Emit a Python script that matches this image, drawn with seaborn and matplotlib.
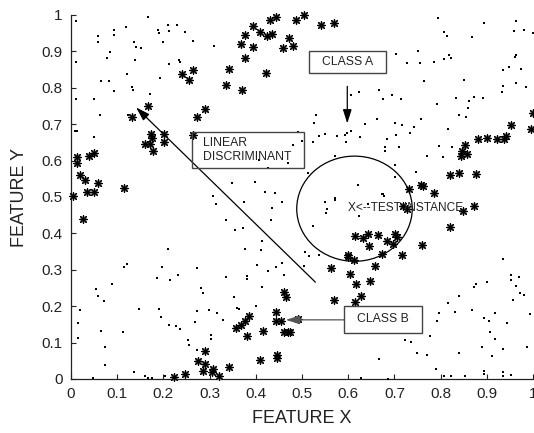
import numpy as np
import pandas as pd
import matplotlib
matplotlib.use("Agg")
import matplotlib.pyplot as plt
import seaborn as sns
from matplotlib.patches import Ellipse, Rectangle

# ---------------- data ----------------
class_a_x = [
    0.011, 0.011, 0.011, 0.009, 0.014, 0.058, 0.059, 0.094, 0.092, 0.118,
    0.084, 0.079, 0.066, 0.082, 0.094, 0.050, 0.063, 0.050, 0.137, 0.141,
    0.152, 0.139, 0.121, 0.131, 0.134, 0.172, 0.123, 0.166, 0.188, 0.190,
    0.209, 0.213, 0.229, 0.247, 0.199, 0.263, 0.310, 0.213, 0.233, 0.236,
    0.193, 0.307,
    0.623, 0.666, 0.605, 0.531, 0.662, 0.637, 0.527, 0.537, 0.549, 0.576,
    0.594, 0.597, 0.606, 0.596, 0.626, 0.523, 0.500, 0.491, 0.480, 0.572,
    0.513, 0.408, 0.469, 0.427, 0.621, 0.348, 0.398, 0.419, 0.441, 0.571,
    0.314, 0.209, 0.114, 0.121, 0.198, 0.273, 0.088, 0.054, 0.059, 0.072,
    0.186, 0.214, 0.232, 0.019, 0.148, 0.191, 0.272, 0.299, 0.315, 0.330,
    0.195, 0.212, 0.227, 0.235, 0.268, 0.016, 0.065, 0.113, 0.015, 0.282,
    0.285, 0.303, 0.304, 0.253, 0.255, 0.273, 0.074, 0.073, 0.137, 0.161,
    0.167, 0.175, 0.203, 0.047,
    0.374, 0.434, 0.457, 0.335, 0.354, 0.372, 0.433, 0.413, 0.412, 0.376,
    0.403, 0.444, 0.457, 0.426, 0.381, 0.381, 0.462, 0.335, 0.413, 0.353,
    0.359, 0.363, 0.400, 0.549, 0.554, 0.551, 0.571, 0.523, 0.507, 0.516,
    0.536, 0.504, 0.623, 0.666, 0.675, 0.643,
    0.794, 0.895, 0.964, 0.807, 0.813, 0.869, 0.959, 0.981, 1.000, 0.704,
    0.751, 0.728, 0.755, 0.785, 0.807, 0.818, 0.823, 0.960, 0.963, 0.947,
    0.935, 0.973, 0.763, 0.850, 0.964, 0.984, 0.935, 0.933, 0.666, 0.675,
    0.695, 0.715, 0.793, 0.833, 0.861, 0.872, 0.892, 0.859, 0.840, 0.855,
    0.757, 0.702, 0.717, 0.742, 0.734, 0.815, 0.703, 0.684, 0.680, 0.680,
    0.711, 0.796, 0.825, 0.771, 0.805, 0.701, 0.702, 0.746, 0.674, 0.678,
    0.935, 0.953, 0.969, 0.952, 0.964, 0.971, 0.980, 0.957, 0.993, 0.876,
    0.872, 0.900, 0.840, 0.816, 0.831, 0.796, 0.793, 0.868, 0.918, 0.895,
    0.904, 0.944, 0.906, 0.917, 0.778, 0.724, 0.737, 0.749, 0.771, 0.840,
    0.890, 0.934, 0.988, 0.911, 0.791, 0.807, 0.823, 0.853, 0.894, 0.894,
    0.934, 0.934, 0.952, 0.628, 0.687,
]
class_a_y = [
    0.984, 0.871, 0.770, 0.680, 0.680, 0.943, 0.925, 0.960, 0.945, 0.966,
    0.897, 0.881, 0.818, 0.818, 0.791, 0.769, 0.726, 0.666, 0.925, 0.911,
    0.909, 0.877, 0.837, 0.802, 0.793, 0.782, 0.726, 0.994, 0.960, 0.950,
    0.972, 0.957, 0.972, 0.952, 0.927, 0.928, 0.915, 0.865, 0.877, 0.871,
    0.828, 0.502,
    0.789, 0.794, 0.780, 0.725, 0.715, 0.700, 0.704, 0.668, 0.672, 0.668,
    0.669, 0.677, 0.681, 0.651, 0.666, 0.651, 0.654, 0.679, 0.642, 0.614,
    0.565, 0.603, 0.594, 0.580, 0.534, 0.539, 0.541, 0.513, 0.510, 0.498,
    0.481, 0.357, 0.308, 0.316, 0.309, 0.306, 0.261, 0.248, 0.227, 0.213,
    0.277, 0.273, 0.286, 0.190, 0.193, 0.193, 0.188, 0.190, 0.180, 0.163,
    0.169, 0.149, 0.146, 0.138, 0.156, 0.155, 0.133, 0.130, 0.114, 0.250,
    0.237, 0.121, 0.110, 0.107, 0.094, 0.080, 0.087, 0.039, 0.020, 0.009,
    0.004, 0.004, 0.009, 0.003,
    0.487, 0.470, 0.487, 0.437, 0.410, 0.415, 0.438, 0.378, 0.355, 0.357,
    0.312, 0.309, 0.320, 0.296, 0.284, 0.275, 0.287, 0.279, 0.252, 0.226,
    0.195, 0.192, 0.200, 0.487, 0.468, 0.456, 0.493, 0.420, 0.349, 0.337,
    0.340, 0.311, 0.447, 0.055, 0.507, 0.480,
    0.992, 0.978, 0.983, 0.954, 0.943, 0.939, 0.957, 0.959, 0.950, 0.893,
    0.900, 0.867, 0.867, 0.870, 0.879, 0.891, 0.883, 0.885, 0.891, 0.856,
    0.848, 0.853, 0.819, 0.821, 0.814, 0.802, 0.804, 0.789, 0.793, 0.769,
    0.780, 0.769, 0.755, 0.771, 0.763, 0.776, 0.773, 0.744, 0.725, 0.721,
    0.713, 0.704, 0.697, 0.692, 0.677, 0.686, 0.670, 0.658, 0.638, 0.626,
    0.638, 0.640, 0.638, 0.612, 0.610, 0.588, 0.556, 0.568, 0.509, 0.504,
    0.330, 0.287, 0.281, 0.273, 0.256, 0.235, 0.231, 0.218, 0.178, 0.261,
    0.252, 0.266, 0.229, 0.209, 0.185, 0.181, 0.160, 0.190, 0.181, 0.167,
    0.158, 0.153, 0.128, 0.109, 0.117, 0.107, 0.103, 0.071, 0.066, 0.071,
    0.089, 0.082, 0.089, 0.064, 0.028, 0.009, 0.009, 0.009, 0.022, 0.013,
    0.018, 0.009, 0.011, 0.004, 0.001,
]

class_b_x = [
    0.013, 0.014, 0.038, 0.049, 0.019, 0.030, 0.058, 0.034, 0.050, 0.005,
    0.115, 0.132, 0.166, 0.173, 0.175, 0.201, 0.201, 0.161, 0.171, 0.177,
    0.240, 0.255, 0.265, 0.291, 0.272, 0.263,
    0.430, 0.444, 0.487, 0.504, 0.395, 0.410, 0.424, 0.435, 0.377, 0.368,
    0.393, 0.471, 0.458, 0.480, 0.542, 0.570, 0.376, 0.341, 0.423, 0.335,
    0.370,
    0.999, 0.952, 0.995, 0.881, 0.901, 0.923, 0.937, 0.942, 0.853, 0.846,
    0.858, 0.845, 0.820, 0.840, 0.876, 0.731, 0.757, 0.762, 0.786,
    0.027, 0.291, 0.274, 0.289, 0.286, 0.308, 0.305, 0.321, 0.247, 0.222,
    0.614, 0.642, 0.633, 0.644, 0.665, 0.599, 0.600, 0.613, 0.657, 0.563,
    0.603, 0.647, 0.617, 0.628, 0.569, 0.614, 0.461, 0.466, 0.444, 0.444,
    0.455, 0.491, 0.385, 0.376, 0.369, 0.357, 0.380, 0.416, 0.460, 0.469,
    0.475, 0.410, 0.446, 0.446, 0.343,
    0.872, 0.848, 0.820, 0.760, 0.717, 0.719, 0.728, 0.706, 0.702, 0.696,
    0.683, 0.673,
]
class_b_y = [
    0.610, 0.594, 0.612, 0.620, 0.561, 0.548, 0.539, 0.513, 0.513, 0.502,
    0.525, 0.720, 0.750, 0.674, 0.661, 0.673, 0.652, 0.645, 0.645, 0.626,
    0.837, 0.822, 0.849, 0.743, 0.721, 0.669,
    0.987, 0.994, 0.987, 1.000, 0.969, 0.954, 0.943, 0.948, 0.945, 0.920,
    0.911, 0.936, 0.908, 0.914, 0.972, 0.978, 0.881, 0.851, 0.840, 0.807,
    0.794,
    0.730, 0.699, 0.686, 0.660, 0.663, 0.658, 0.658, 0.667, 0.642, 0.626,
    0.618, 0.614, 0.560, 0.566, 0.563, 0.522, 0.534, 0.530, 0.512,
    0.440, 0.078, 0.050, 0.041, 0.023, 0.028, 0.018, 0.009, 0.014, 0.005,
    0.392, 0.399, 0.386, 0.366, 0.395, 0.342, 0.334, 0.327, 0.311, 0.305,
    0.289, 0.270, 0.261, 0.227, 0.218, 0.211, 0.239, 0.225, 0.184, 0.160,
    0.160, 0.165, 0.174, 0.158, 0.149, 0.141, 0.119, 0.132, 0.129, 0.130,
    0.129, 0.052, 0.066, 0.057, 0.032,
    0.475, 0.461, 0.418, 0.367, 0.340, 0.475, 0.466, 0.389, 0.397, 0.372,
    0.378, 0.344,
]

tick_values = [0, 0.1, 0.2, 0.3, 0.4, 0.5, 0.6, 0.7, 0.8, 0.9, 1]
tick_labels = ["0", "0.1", "0.2", "0.3", "0.4", "0.5", "0.6", "0.7", "0.8", "0.9", "1"]

df_a = pd.DataFrame({"x": class_a_x, "y": class_a_y})
df_b = pd.DataFrame({"x": class_b_x, "y": class_b_y})

# ---------------- figure ----------------
sns.set_style("ticks")
plt.rcParams["font.family"] = ["Liberation Sans", "DejaVu Sans"]

fig = plt.figure(figsize=(5.34, 4.33), dpi=100)
ax = fig.add_axes([71 / 534, 1 - 379 / 433, (533 - 71) / 534, (379 - 15) / 433])

sns.scatterplot(data=df_a, x="x", y="y", ax=ax, marker="s", s=3,
                color="black", linewidth=0, zorder=3, clip_on=False)
sns.scatterplot(data=df_b, x="x", y="y", ax=ax, marker="o", s=30,
                color="#9a9a9a", linewidth=0, alpha=0.8, zorder=3, clip_on=False)
sns.scatterplot(data=df_b, x="x", y="y", ax=ax, marker=(8, 2, 0), s=32,
                color="black", edgecolor="black", linewidth=0.8, zorder=4,
                clip_on=False)

ax.set_xlim(0, 1)
ax.set_ylim(0, 1)
ax.set_xticks(tick_values)
ax.set_xticklabels(tick_labels)
ax.set_yticks(tick_values)
ax.set_yticklabels(tick_labels)
ax.tick_params(direction="in", length=3.5, width=0.8, labelsize=11,
               colors="#222222", pad=6)
for side in ["top", "right"]:
    ax.spines[side].set_visible(False)
for side in ["left", "bottom"]:
    ax.spines[side].set_linewidth(0.9)
    ax.spines[side].set_color("#222222")

ax.set_xlabel("FEATURE X", fontsize=13, color="#222222", labelpad=6)
ax.set_ylabel("FEATURE Y", fontsize=13, color="#222222", labelpad=10)

# ---------------- annotations ----------------
arrow_kw = dict(arrowstyle="-|>,head_length=0.7,head_width=0.22",
                color="black", lw=0.9, mutation_scale=12, shrinkA=0, shrinkB=0)

ax.annotate("", xy=(0.141, 0.746), xytext=(0.529, 0.266),
            arrowprops=arrow_kw, zorder=5)
ax.add_patch(Rectangle((0.262, 0.581), 0.242, 0.097, fill=False,
                       edgecolor="#444444", lw=1.0, zorder=5))
ax.text(0.286, 0.629, "LINEAR\nDISCRIMINANT", fontsize=8.8, ha="left",
        va="center", color="#222222", linespacing=1.15, zorder=6)

ax.add_patch(Rectangle((0.515, 0.840), 0.167, 0.061, fill=False,
                       edgecolor="#444444", lw=1.0, zorder=5))
ax.text(0.598, 0.870, "CLASS A", fontsize=8.8, ha="center", va="center",
        color="#222222", zorder=6)
ax.annotate("", xy=(0.598, 0.702), xytext=(0.598, 0.804),
            arrowprops=arrow_kw, zorder=5)

ax.add_patch(Ellipse((0.6136, 0.4678), 0.250, 0.289, fill=False,
                     edgecolor="black", lw=0.9, zorder=5))
ax.text(0.600, 0.471, "X<--TEST INSTANCE", fontsize=8.6, ha="left",
        va="center", color="#222222", zorder=6)

ax.add_patch(Rectangle((0.591, 0.127), 0.169, 0.074, fill=False,
                       edgecolor="#444444", lw=1.0, zorder=5))
ax.text(0.675, 0.164, "CLASS B", fontsize=8.8, ha="center", va="center",
        color="#222222", zorder=6)
ax.annotate("", xy=(0.465, 0.1625), xytext=(0.591, 0.1625),
            arrowprops=dict(arrow_kw, color="#555555"), zorder=5)

fig.savefig("out.png", dpi=100)
